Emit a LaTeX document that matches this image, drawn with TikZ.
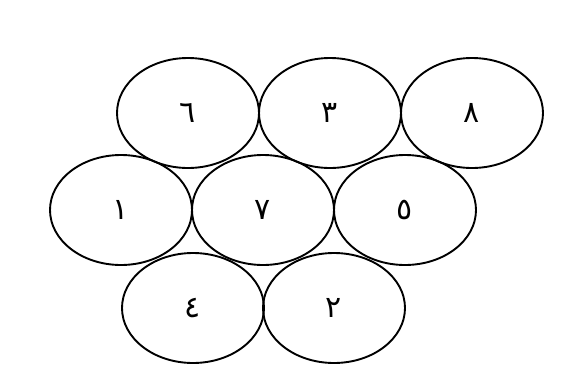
\documentclass[tikz,border=0pt]{standalone}
\usepackage{fontspec}
\usetikzlibrary{shapes.geometric}
\newfontfamily\arabicfont[Script=Arabic]{DejaVu Sans}
\TeXXeTstate=1
\begin{document}
\begin{tikzpicture}[x=1pt,y=-1pt,
  cell/.style={draw=black,line width=1.9pt,ellipse,minimum width=142pt,minimum height=110pt,inner sep=0pt,font=\arabicfont\fontsize{30}{30}\selectfont}]
\useasboundingbox (0,0) rectangle (563,389);
\node[cell] (n6) at (188,113) {\beginR ٦\endR};
\node[cell] (n3) at (330,113) {\beginR ٣\endR};
\node[cell] (n8) at (472,113) {\beginR ٨\endR};
\node[cell] (n1) at (121,210) {\beginR ١\endR};
\node[cell] (n7) at (263,210) {\beginR ٧\endR};
\node[cell] (n5) at (405,210) {\beginR ٥\endR};
\node[cell] (n4) at (193,308) {\beginR ٤\endR};
\node[cell] (n2) at (334,308) {\beginR ٢\endR};
\end{tikzpicture}
\end{document}
